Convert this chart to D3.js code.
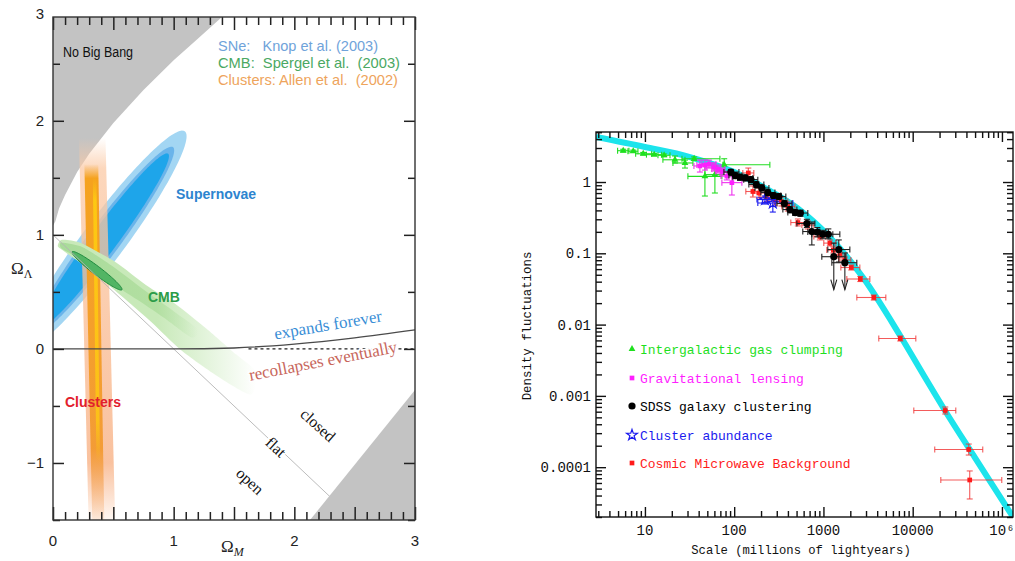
<!DOCTYPE html>
<html><head><meta charset="utf-8">
<script src="https://cdn.jsdelivr.net/npm/d3@7"></script>
<style>body{margin:0;background:#fff}svg{display:block}</style>
</head><body>
<svg id="c" width="1015" height="561"></svg>
<script>
// ================= LEFT PANEL DATA (Omega_M, Omega_Lambda) =================
const omegaMTicks = [0, 1, 2, 3];
const omegaLTicks = [-1, 0, 1, 2];
const omegaLTickLabels = ["\u22121", "0", "1", "2"];
const noBigBangM = [0, 0.02, 0.05, 0.1, 0.2, 0.3, 0.5, 0.75, 1.0, 1.2, 1.4];
const noBigBangL = [1.08, 1.12, 1.23, 1.35, 1.55, 1.71, 1.98, 2.27, 2.53, 2.72, 2.91];
const expandM = [0, 1, 1.5, 2, 2.5, 3];
const expandL = [0, 0, 0.0085, 0.042, 0.097, 0.167];
const flatM = [0, 2.5];
const flatL = [1, -1.5];
const cornerM = [2.13, 3, 3];
const cornerL = [-1.5, -0.36, -1.5];
const snCentre = [0.42, 0.95];
const snA = [1.17, 1.0, 0.93];
const snB = [0.18, 0.135, 0.11];
const snAngle = 55;
const cmbBandM = [0.075,0.225,0.52,0.77,1.02,1.27,1.52,1.68,1.64,1.35,1.06,0.81,0.56,0.31,0.1,0.04];
const cmbBandL = [0.956,0.93,0.76,0.56,0.39,0.18,-0.05,-0.2,-0.4,-0.23,-0.01,0.24,0.47,0.69,0.85,0.9];
const cmbCoreM = [0.07,0.25,0.5,0.75,1.0,1.2,1.15,0.95,0.7,0.45,0.2,0.07];
const cmbCoreL = [0.93,0.89,0.72,0.52,0.33,0.17,0.1,0.25,0.43,0.60,0.80,0.88];
const cmbEllCentre = [0.365, 0.685];
const clOuterM = [0.215, 0.435, 0.515, 0.295];
const clOuterL = [1.85, 1.85, -1.5, -1.5];
const clInnerM = [0.26, 0.375, 0.425, 0.325];
const clInnerL = [1.62, 1.62, -1.5, -1.5];
const clCoreM = [0.33, 0.36, 0.39, 0.36];
const clCoreL = [1.5, 1.5, -1.0, -1.0];

// ================= RIGHT PANEL DATA =================
const xTickVals = [10, 100, 1000, 10000, 100000];
const xTickLabels = ["10", "100", "1000", "10000", "10\u2076"];
const yTickVals = [1, 0.1, 0.01, 0.001, 0.0001];
const yTickLabels = ["1", "0.1", "0.01", "0.001", "0.0001"];
const theoryX = [2.83,10,32,100,211,507,1200,2800,7280,14300,22800,50000,133000];
const theoryY = [4.28,3.10,2.24,1.38,0.851,0.432,0.164,0.045,0.00692,0.00167,0.000634,0.000135,0.00002];

const lyaX   = [5.71,7.40,9.57,12.7,16.4,21.7,28.1,35.6,47.0,60.8,77.3];
const lyaY   = [2.75,2.70,2.49,2.42,2.37,2.05,1.85,2.12,1.20,1.27,1.75];
const lyaXlo = [4.94,6.45,7.87,10.4,14.0,15.9,20.6,26.0,30.3,47.0,74.7];
const lyaXhi = [6.62,8.35,11.9,15.4,19.1,28.1,34.5,69.2,72.8,89.5,251];
const lyaYlo = [2.64,2.60,2.40,2.32,2.27,1.85,1.57,2.00,0.636,0.701,1.41];
const lyaYhi = [2.88,2.80,2.60,2.52,2.47,2.32,2.03,2.25,1.79,1.68,2.12];

const lensX   = [41.3,47.0,52.1,59.3,65.6,72.8,82.8,94.2];
const lensY   = [1.68,1.73,1.79,1.62,1.52,1.40,1.21,0.98];
const lensXlo = [35.4,38.2,43.5,49.4,56.2,62.4,71.0,72.8];
const lensXhi = [48.2,57.7,62.4,71.0,78.7,87.3,96.6,122];
const lensYlo = [1.38,1.47,1.57,1.43,1.34,1.25,1.07,0.657];
const lensYhi = [2.03,2.03,2.03,1.85,1.73,1.57,1.38,1.29];

const sdssX   = [91.8,103,116,133,154,177,204,238,275,317,365,421,484,551,652,741,855,984,1135,1306,1486,1738];
const sdssY   = [1.38,1.23,1.17,1.14,1.08,0.923,0.824,0.712,0.647,0.626,0.499,0.411,0.373,0.367,0.262,0.202,0.199,0.185,0.185,0.0896,0.113,0.0738];
const sdssXlo = [76.7,87.3,96.6,110,128,146,171,199,226,264,301,351,399,454,504,587,668,741,865,959,1119,1242];
const sdssXhi = [113,122,139,162,184,215,245,286,333,379,443,504,587,668,802,912,1064,1274,1527,1782,1977,2366];
const sdssYlo = [1.26,1.12,1.06,1.04,0.98,0.84,0.75,0.65,0.59,0.57,0.45,0.37,0.34,0.33,0.23,0.131,0.17,0.16,0.16,0.031,0.0755,0.031];
const sdssYhi = [1.50,1.35,1.28,1.25,1.19,1.01,0.91,0.78,0.71,0.69,0.55,0.45,0.41,0.40,0.30,0.275,0.23,0.21,0.22,0.139,0.154,0.101];
const sdssLimit = [0,0,0,0,0,0,0,0,0,0,0,0,0,0,0,0,0,0,0,1,0,1];

const clusX   = [221,271];
const clusY   = [0.568,0.507];
const clusXlo = [180,184];
const clusXhi = [301,454];
const clusYlo = [0.491,0.379];
const clusYhi = [0.636,0.616];

const cmbX   = [144,162,189,229,286,338,399,517,668,912,1180,1291,1527,1738,2051,2588,3664,7261,23170,42460,43550];
const cmbY   = [1.34,0.736,0.701,0.616,0.559,0.533,0.453,0.270,0.249,0.172,0.139,0.111,0.0946,0.0805,0.0632,0.0436,0.0240,0.00638,6.24e-4,1.77e-4,6.61e-5];
const cmbXlo = [125,135,162,194,238,286,342,431,573,781,1009,1091,1306,1486,1567,1828,2366,4169,10290,17660,20650];
const cmbXhi = [166,194,221,271,342,399,479,635,781,1064,1377,1527,1782,2028,2558,3311,5000,10840,30400,60950,99540];
const cmbYlo = [1.14,0.616,0.597,0.524,0.476,0.461,0.392,0.242,0.219,0.154,0.127,0.101,0.0859,0.0731,0.0583,0.0402,0.0221,0.00589,5.57e-4,1.48e-4,3.58e-5];
const cmbYhi = [1.57,0.879,0.824,0.724,0.657,0.616,0.524,0.303,0.284,0.193,0.154,0.123,0.104,0.0887,0.0685,0.0473,0.0260,0.00692,6.98e-4,2.11e-4,8.85e-5];

const legendNames = ["Intergalactic gas clumping","Gravitational lensing","SDSS galaxy clustering","Cluster abundance","Cosmic Microwave Background"];
const legendColors = ["#1ee01e","#ff1eff","#000000","#1a1aee","#ff1a1a"];

// ================= DRAW =================
const svg = d3.select("#c");
const defs = svg.append("defs");
function grad(id, x2, y2, stops){
  const g = defs.append("linearGradient").attr("id",id).attr("x1",0).attr("y1",0).attr("x2",x2).attr("y2",y2);
  stops.forEach(s=>g.append("stop").attr("offset",s[0]).attr("stop-color",s[1]).attr("stop-opacity",s[2]));
}
grad("clOut",0,1,[[0,"#fbcaa6",0],[0.08,"#fbcaa6",0.75],[0.85,"#f8b286",0.8],[1,"#f8b286",0.1]]);
grad("clIn",0,1,[[0,"#f5a21e",0],[0.04,"#f5a21e",1],[0.8,"#f39a30",0.95],[1,"#f4a060",0.15]]);
grad("clCore",0,1,[[0,"#ffcf10",0],[0.08,"#ffcf10",0.85],[0.85,"#ffcc10",0.75],[1,"#ffcc10",0]]);
grad("cmbBand",1,0,[[0,"#c8e9b9",1],[0.5,"#c8e9b9",1],[1,"#c8e9b9",0]]);
grad("cmbCore",1,0,[[0,"#a9db9a",1],[0.7,"#b0de9f",0.9],[1,"#b8e3aa",0]]);

function seg(g,x1,y1,x2,y2,color,w){
  g.append("line").attr("x1",x1).attr("y1",y1).attr("x2",x2).attr("y2",y2)
    .attr("stroke",color).attr("stroke-width",w);
}
// inward ticks drawn with d3 axes
function ticksOn(g, axisFn, scale, vals, len, translate, color, width){
  const a = g.append("g").attr("transform",translate)
    .call(axisFn(scale).tickValues(vals).tickSize(len).tickFormat(""));
  a.select(".domain").remove();
  a.selectAll(".tick line").attr("stroke",color).attr("stroke-width",width);
}

// ---------- left panel ----------
const xL = d3.scaleLinear().domain([0,3]).range([53,415]);
const yL = d3.scaleLinear().domain([-1.5,2.91]).range([520,17]);
defs.append("clipPath").attr("id","clipL").append("rect")
  .attr("x",53).attr("y",17).attr("width",362).attr("height",503);
const lineL = d3.line().x(d=>xL(d[0])).y(d=>yL(d[1]));
const closedL = d3.line().x(d=>xL(d[0])).y(d=>yL(d[1])).curve(d3.curveLinearClosed);
const smoothClosedL = d3.line().x(d=>xL(d[0])).y(d=>yL(d[1])).curve(d3.curveCardinalClosed.tension(0.3));
const gL = svg.append("g");
const pL = gL.append("g").attr("clip-path","url(#clipL)");

const nbb = [[0,2.91]].concat(d3.zip(noBigBangM,noBigBangL)).concat([[1.4,2.91]]);
pL.append("path").attr("d",closedL(nbb)).attr("fill","#c3c3c3");

function ellipse(c,a,b,ang,n){
  const t0 = ang*Math.PI/180, pts=[];
  for(let i=0;i<n;i++){
    const t=2*Math.PI*i/n, u=a*Math.cos(t), v=b*Math.sin(t);
    pts.push([c[0]+u*Math.cos(t0)-v*Math.sin(t0), c[1]+u*Math.sin(t0)+v*Math.cos(t0)]);
  }
  return pts;
}
const snColors = ["#a3d6f3","#6ab4ea","#1ea5ea"];
snA.forEach((a,i)=>{
  pL.append("path").attr("d",closedL(ellipse(snCentre,a,snB[i],snAngle,160))).attr("fill",snColors[i]);
});

pL.append("path").attr("d",closedL(d3.zip(clOuterM,clOuterL))).attr("fill","url(#clOut)");
pL.append("path").attr("d",closedL(d3.zip(clInnerM,clInnerL))).attr("fill","url(#clIn)");
pL.append("path").attr("d",closedL(d3.zip(clCoreM,clCoreL))).attr("fill","url(#clCore)");

pL.append("path").attr("d",smoothClosedL(d3.zip(cmbBandM,cmbBandL))).attr("fill","url(#cmbBand)");
pL.append("path").attr("d",smoothClosedL(d3.zip(cmbCoreM,cmbCoreL))).attr("fill","url(#cmbCore)");
pL.append("path").attr("d",closedL(ellipse(cmbEllCentre,0.265,0.036,-39,100)))
  .attr("fill","#52b564").attr("stroke","#1f8a3e").attr("stroke-width",1);

pL.append("path").attr("d",lineL(d3.zip(flatM,flatL))).attr("stroke","#b4b4b4").attr("stroke-width",0.9).attr("fill","none");
pL.append("path").attr("d",d3.line().x(d=>xL(d[0])).y(d=>yL(d[1])).curve(d3.curveMonotoneX)(d3.zip(expandM,expandL)))
  .attr("stroke","#4a4a4a").attr("stroke-width",1.4).attr("fill","none");
pL.append("path").attr("d",lineL([[1.62,0],[3,0]])).attr("stroke","#222").attr("stroke-width",1.2)
  .attr("stroke-dasharray","3,3").attr("fill","none");
pL.append("path").attr("d",closedL(d3.zip(cornerM,cornerL))).attr("fill","#c3c3c3");

const sans = "'Liberation Sans', Arial, sans-serif";
const narrow = "'Liberation Sans Narrow', 'Liberation Sans', Arial, sans-serif";
const serif = "'Liberation Serif', 'Times New Roman', serif";
gL.append("text").attr("x",63).attr("y",57).text("No Big Bang").attr("font-family",narrow)
  .attr("font-size",14).attr("fill","#111").attr("textLength",70).attr("lengthAdjust","spacingAndGlyphs");
const legL = [["SNe:   Knop et al. (2003)","#6fa3da",160,51],["CMB:  Spergel et al.  (2003)","#4aa862",182,68],["Clusters: Allen et al.  (2002)","#eea45c",180,85]];
legL.forEach(r=>gL.append("text").attr("x",218).attr("y",r[3]).text(r[0]).style("white-space","pre")
  .attr("font-family",narrow).attr("font-size",15).attr("fill",r[1]).attr("textLength",r[2]).attr("lengthAdjust","spacingAndGlyphs"));
gL.append("text").attr("x",176).attr("y",199).text("Supernovae").attr("font-family",sans).attr("font-weight","bold").attr("font-size",14).attr("fill","#2c84cf");
gL.append("text").attr("x",148).attr("y",302).text("CMB").attr("font-family",sans).attr("font-weight","bold").attr("font-size",14).attr("fill","#2c9c48");
gL.append("text").attr("x",65).attr("y",407).text("Clusters").attr("font-family",sans).attr("font-weight","bold").attr("font-size",14).attr("fill","#e2202c");
function rotText(txt,cx,cy,ang,color,size){
  gL.append("text").attr("transform",`translate(${cx},${cy}) rotate(${ang})`).attr("text-anchor","middle")
    .attr("dominant-baseline","central").text(txt).attr("font-family",serif).attr("font-size",size).attr("fill",color)
    .attr("stroke","#fff").attr("stroke-width",3).attr("paint-order","stroke");
}
rotText("expands forever",328,325,-9.5,"#3a8ed6",17);
rotText("recollapses eventually",323,361,-11,"#c8675c",17);
rotText("closed",318,425,42,"#111",16);
rotText("flat",276,447,43,"#111",16);
rotText("open",250,481,43,"#111",16);

// frame & ticks (left)
const xMajL = d3.range(0,7).map(i=>i/2);
const xMinL = d3.range(0,31).filter(i=>i%5!==0).map(i=>i/10);
const yMajL = d3.range(-1,3);
const yMinL = d3.range(-3,6).filter(i=>i%2!==0).map(i=>i/2);
ticksOn(gL, d3.axisBottom, xL, xMajL, -13, "translate(0,520)", "#222", 1.5);
ticksOn(gL, d3.axisBottom, xL, xMinL, -8, "translate(0,520)", "#222", 1.5);
ticksOn(gL, d3.axisTop, xL, xMajL, -13, "translate(0,17)", "#222", 1.5);
ticksOn(gL, d3.axisTop, xL, xMinL, -8, "translate(0,17)", "#222", 1.5);
ticksOn(gL, d3.axisLeft, yL, yMajL, -11, "translate(53,0)", "#222", 1.5);
ticksOn(gL, d3.axisLeft, yL, yMinL, -7, "translate(53,0)", "#222", 1.5);
ticksOn(gL, d3.axisRight, yL, yMajL, -11, "translate(415,0)", "#222", 1.5);
ticksOn(gL, d3.axisRight, yL, yMinL, -7, "translate(415,0)", "#222", 1.5);
gL.append("rect").attr("x",53).attr("y",17).attr("width",362).attr("height",503).attr("fill","none").attr("stroke","#333").attr("stroke-width",1.4);
omegaMTicks.forEach(v=>gL.append("text").attr("x",xL(v)).attr("y",546).attr("text-anchor","middle").text(v)
  .attr("font-family",sans).attr("font-size",15).attr("fill","#222"));
omegaLTicks.forEach((v,i)=>gL.append("text").attr("x",44).attr("y",yL(v)+5).attr("text-anchor","end").text(omegaLTickLabels[i])
  .attr("font-family",sans).attr("font-size",15).attr("fill","#222"));
gL.append("text").attr("x",44).attr("y",19).attr("text-anchor","end").text("3").attr("font-family",sans).attr("font-size",15).attr("fill","#222");
const oL = gL.append("text").attr("x",11).attr("y",274).attr("font-family",serif).attr("font-size",17).attr("fill","#222");
oL.append("tspan").text("\u03A9");
oL.append("tspan").attr("dy",4).attr("font-size",12).text("\u039B");
const oM = gL.append("text").attr("x",221).attr("y",552).attr("font-family",serif).attr("font-size",17).attr("fill","#222");
oM.append("tspan").text("\u03A9");
oM.append("tspan").attr("dy",4).attr("font-size",12).attr("font-style","italic").text("M");

// ---------- right panel ----------
const xR = d3.scaleLog().domain([2.83,1.33e5]).range([596,1013]);
const yR = d3.scaleLog().domain([2.0e-5,5.03]).range([517,132]);
defs.append("clipPath").attr("id","clipR").append("rect").attr("x",596).attr("y",132).attr("width",417).attr("height",385);
const gR = svg.append("g");
gR.append("path").datum(d3.zip(theoryX,theoryY)).attr("clip-path","url(#clipR)")
  .attr("d",d3.line().x(d=>xR(d[0])).y(d=>yR(d[1])).curve(d3.curveMonotoneX))
  .attr("fill","none").attr("stroke","#1ce4ec").attr("stroke-width",6);

function series(X,Y,Xlo,Xhi,Ylo,Yhi,errColor,mark,limits){
  const g = gR.append("g");
  X.forEach((x,i)=>{
    const px=xR(x), py=yR(Y[i]), x0=xR(Xlo[i]), x1=xR(Xhi[i]), y0=yR(Ylo[i]), y1=yR(Yhi[i]);
    seg(g,x0,py,x1,py,errColor,1.1);
    seg(g,x0,py-3,x0,py+3,errColor,1.1);
    seg(g,x1,py-3,x1,py+3,errColor,1.1);
    seg(g,px,y1,px,y0,errColor,1.1);
    seg(g,px-3,y1,px+3,y1,errColor,1.1);
    if(limits && limits[i]){
      g.append("path").attr("d",`M${px-3},${y0-10}L${px},${y0}L${px+3},${y0-10}`)
        .attr("fill","none").attr("stroke",errColor).attr("stroke-width",1.1);
    } else {
      seg(g,px-3,y0,px+3,y0,errColor,1.1);
    }
  });
  X.forEach((x,i)=>mark(gR,xR(x),yR(Y[i])));
}
const sym = (type,size,fill,stroke)=>(g,x,y)=>g.append("path").attr("transform",`translate(${x},${y})`)
  .attr("d",d3.symbol().type(type).size(size)()).attr("fill",fill).attr("stroke",stroke||"none").attr("stroke-width",1.2);
const markers = [
  sym(d3.symbolTriangle,20,legendColors[0]),
  sym(d3.symbolSquare,22,legendColors[1]),
  (g,x,y)=>g.append("circle").attr("cx",x).attr("cy",y).attr("r",3.6).attr("fill","#000"),
  sym(d3.symbolStar,36,"none",legendColors[3]),
  sym(d3.symbolSquare,22,legendColors[4])
];
series(lyaX,lyaY,lyaXlo,lyaXhi,lyaYlo,lyaYhi,"#22dd22",markers[0]);
series(lensX,lensY,lensXlo,lensXhi,lensYlo,lensYhi,"#ee33ee",markers[1]);
series(cmbX,cmbY,cmbXlo,cmbXhi,cmbYlo,cmbYhi,"rgba(240,50,50,0.8)",markers[4]);
series(clusX,clusY,clusXlo,clusXhi,clusYlo,clusYhi,"#1a1aee",markers[3]);
series(sdssX,sdssY,sdssXlo,sdssXhi,sdssYlo,sdssYhi,"#222",markers[2],sdssLimit);

// frame & ticks (right)
const isDecade = v => Math.abs(Math.log10(v) - Math.round(Math.log10(v))) < 1e-6;
const xAllR = xR.ticks(40).filter(v=>v>=2.83&&v<=1.33e5);
const yAllR = yR.ticks(50).filter(v=>v>=2.0e-5&&v<=5.03);
const xMajR = xAllR.filter(isDecade), xMinR = xAllR.filter(v=>!isDecade(v));
const yMajR = yAllR.filter(isDecade), yMinR = yAllR.filter(v=>!isDecade(v));
ticksOn(gR, d3.axisBottom, xR, xMajR, -10, "translate(0,517)", "#111", 1.4);
ticksOn(gR, d3.axisBottom, xR, xMinR, -6, "translate(0,517)", "#111", 1.4);
ticksOn(gR, d3.axisTop, xR, xMajR, -10, "translate(0,132)", "#111", 1.4);
ticksOn(gR, d3.axisTop, xR, xMinR, -6, "translate(0,132)", "#111", 1.4);
ticksOn(gR, d3.axisLeft, yR, yMajR, -10, "translate(596,0)", "#111", 1.4);
ticksOn(gR, d3.axisLeft, yR, yMinR, -6, "translate(596,0)", "#111", 1.4);
ticksOn(gR, d3.axisRight, yR, yMajR, -10, "translate(1013,0)", "#111", 1.4);
ticksOn(gR, d3.axisRight, yR, yMinR, -6, "translate(1013,0)", "#111", 1.4);
gR.append("rect").attr("x",596).attr("y",132).attr("width",417).attr("height",385).attr("fill","none").attr("stroke","#111").attr("stroke-width",1.4);
const mono = "'Liberation Mono', 'DejaVu Sans Mono', monospace";
xTickVals.forEach((v,i)=>gR.append("text").attr("x",xR(v)).attr("y",535).attr("text-anchor","middle")
  .text(xTickLabels[i]).attr("font-family",mono).attr("font-size",14).attr("fill","#111"));
yTickVals.forEach((v,i)=>gR.append("text").attr("x",591).attr("y",yR(v)+5).attr("text-anchor","end")
  .text(yTickLabels[i]).attr("font-family",mono).attr("font-size",14).attr("fill","#111"));
gR.append("text").attr("x",801).attr("y",554).attr("text-anchor","middle").text("Scale (millions of lightyears)")
  .attr("font-family",mono).attr("font-size",12.2).attr("fill","#111");
gR.append("text").attr("transform","translate(531,326) rotate(-90)").attr("text-anchor","middle").text("Density fluctuations")
  .attr("font-family",mono).attr("font-size",12.4).attr("fill","#111");

const legY = [349,378,406,435,463];
legendNames.forEach((n,i)=>{
  markers[i](gR,632,legY[i]);
  gR.append("text").attr("x",640).attr("y",legY[i]+5).text(n).attr("font-family",mono)
    .attr("font-size",13).attr("fill",legendColors[i]);
});
</script>
</body></html>
